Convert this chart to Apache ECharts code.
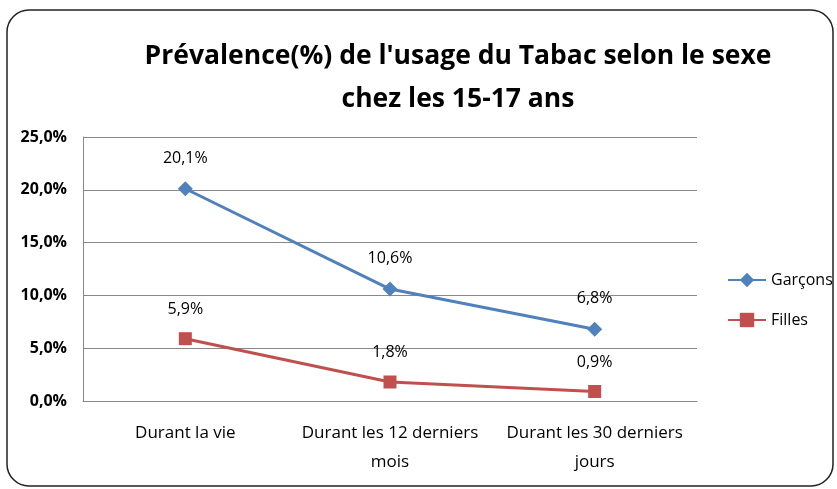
<!DOCTYPE html>
<html><head><meta charset="utf-8">
<script src="https://cdn.jsdelivr.net/npm/echarts@6/dist/echarts.min.js"></script>
<style>html,body{margin:0;padding:0;background:#fff}#c{width:837px;height:489px}</style>
</head><body><div id="c"></div>
<script>
const categories = ['Durant la vie', 'Durant les 12 derniers\nmois', 'Durant les 30 derniers\njours'];
const garcons = [20.1, 10.6, 6.8];
const filles = [5.9, 1.8, 0.9];
const yTicks = {min: 0, max: 25, interval: 5};
const fmt = v => v.toFixed(1).replace('.', ',') + '%';
const FONT = '"Open Sans", sans-serif';
const chart = echarts.init(document.getElementById('c'), null, {renderer: 'canvas'});
chart.setOption({
  animation: false,
  backgroundColor: '#fff',
  graphic: [{
    type: 'rect', shape: {x: 7, y: 10, width: 826, height: 476, r: 22},
    style: {fill: 'none', stroke: '#222', lineWidth: 1.5}, z: -1
  }],
  title: {
    text: "Prévalence(%) de l'usage du Tabac selon le sexe\nchez les 15-17 ans",
    left: 453, top: 30, textAlign: 'center',
    textStyle: {fontFamily: FONT, fontSize: 26.5, fontWeight: 'bold', color: '#000', lineHeight: 43}
  },
  grid: {left: 83, top: 137, width: 614, height: 264, containLabel: false},
  legend: {
    orient: 'vertical', left: 722, top: 267, itemWidth: 38, itemHeight: 18, itemGap: 24,
    textStyle: {fontFamily: FONT, fontSize: 16, color: '#000'},
    data: ['Garçons', 'Filles']
  },
  xAxis: {
    type: 'category', data: categories, boundaryGap: true,
    axisLine: {lineStyle: {color: '#888', width: 1}},
    axisTick: {show: false},
    axisLabel: {fontFamily: FONT, fontSize: 17, color: '#000', margin: 18, lineHeight: 29, interval: 0}
  },
  yAxis: {
    type: 'value', min: yTicks.min, max: yTicks.max, interval: yTicks.interval,
    axisLine: {show: true, lineStyle: {color: '#888'}},
    axisTick: {show: false},
    splitLine: {lineStyle: {color: '#888', width: 1}},
    axisLabel: {fontFamily: FONT, fontSize: 16, fontWeight: 'bold', color: '#000', margin: 16, formatter: fmt}
  },
  series: [{
    name: 'Garçons', type: 'line', data: garcons, symbol: 'diamond', symbolSize: 15,
    lineStyle: {color: '#4F81BD', width: 3}, itemStyle: {color: '#4F81BD'},
    label: {show: true, position: 'top', distance: 15, fontFamily: FONT, fontSize: 16, color: '#000',
      formatter: p => fmt(p.value)}
  }, {
    name: 'Filles', type: 'line', data: filles, symbol: 'rect', symbolSize: 13,
    lineStyle: {color: '#C0504D', width: 3}, itemStyle: {color: '#C0504D'},
    label: {show: true, position: 'top', distance: 15, fontFamily: FONT, fontSize: 16, color: '#000',
      formatter: p => fmt(p.value)}
  }]
});
</script></body></html>
